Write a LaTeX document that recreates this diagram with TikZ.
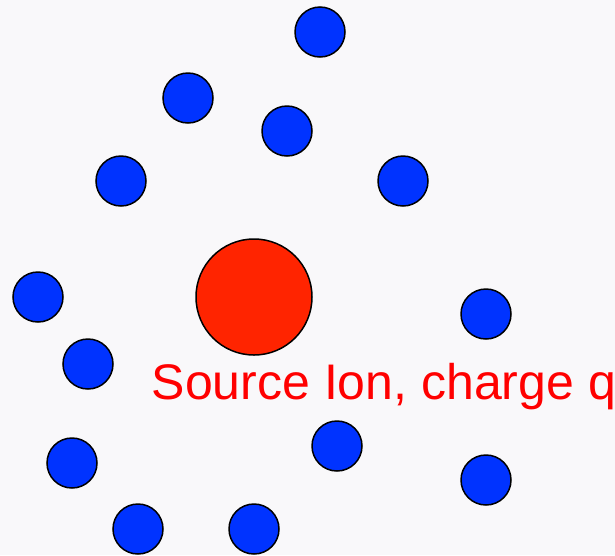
\documentclass[tikz,border=0pt]{standalone}
\usepackage{fontspec}
\setmainfont{Liberation Sans}
\usetikzlibrary{positioning}
\definecolor{ionred}{RGB}{255,36,0}
\definecolor{solventblue}{RGB}{0,51,255}
\definecolor{paper}{RGB}{249,248,250}

\begin{document}
\begin{tikzpicture}[x=1pt,y=-1pt,line width=1.5pt]
\tikzstyle{solvent}=[circle,draw=black,fill=solventblue,minimum size=50pt,inner sep=0pt]
\tikzstyle{ion}=[circle,draw=black,fill=ionred,minimum size=116pt,inner sep=0pt]

\fill[paper] (0,0) rectangle (615,555);
\useasboundingbox (0,0) rectangle (615,555);

\node[ion] (Q) at (254,297) {};
\node[solvent] (A) at (320,32) {};
\node[solvent] (B) at (188,98) {};
\node[solvent] (C) at (287,131) {};
\node[solvent] (D) at (121,181) {};
\node[solvent] (E) at (403,181) {};
\node[solvent] (F) at (38,297) {};
\node[solvent] (G) at (486,314) {};
\node[solvent] (H) at (88,364) {};
\node[solvent] (I) at (337,446) {};
\node[solvent] (J) at (72,463) {};
\node[solvent] (K) at (486,480) {};
\node[solvent] (L) at (138,529) {};
\node[solvent] (M) at (254,529) {};
\node[anchor=base west,inner sep=0pt,text=red,font=\fontsize{50}{60}\selectfont] (label) at (151,399) {Source Ion, charge q};
\end{tikzpicture}
\end{document}
